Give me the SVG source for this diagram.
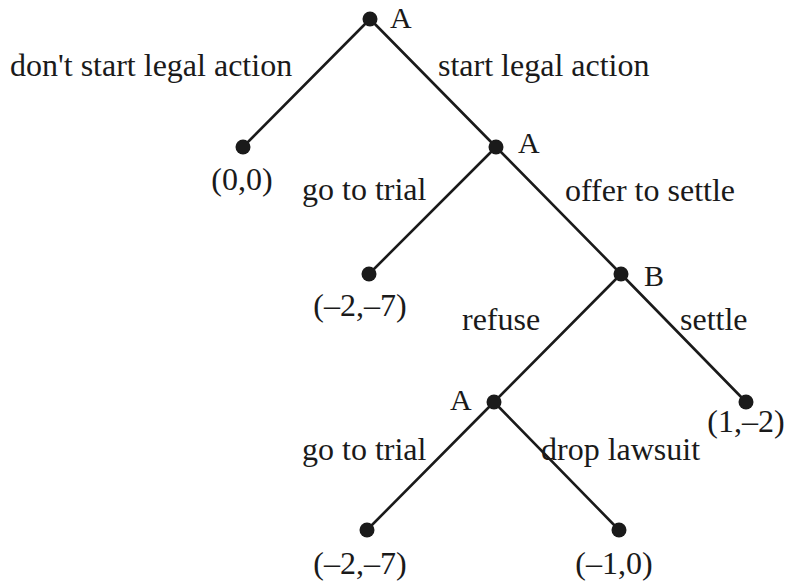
<svg xmlns="http://www.w3.org/2000/svg" width="786" height="581" viewBox="0 0 786 581">
<style>
.e{stroke:#1a1a1a;stroke-width:2.6;fill:none;stroke-linecap:round}
.n{fill:#1a1a1a}
text{font-family:"Liberation Serif","Times New Roman",serif;fill:#1a1a1a}
.t{font-size:32px}
.p{font-size:32px}
.l{font-size:30px}
</style>
<rect width="786" height="581" fill="#fff"/>
<g id="connectors">
<line class="e" x1="370" y1="19" x2="243" y2="147"/>
<line class="e" x1="370" y1="19" x2="496" y2="147"/>
<line class="e" x1="496" y1="147" x2="369" y2="274"/>
<line class="e" x1="496" y1="147" x2="621" y2="274"/>
<line class="e" x1="621" y1="274" x2="494" y2="402"/>
<line class="e" x1="621" y1="274" x2="746" y2="402"/>
<line class="e" x1="494" y1="402" x2="367" y2="530"/>
<line class="e" x1="494" y1="402" x2="619" y2="530"/>
</g>
<g id="edge-labels">
<text class="t" x="10" y="76">don't start legal action</text>
<text class="t" x="438" y="76">start legal action</text>
<text class="t" x="302" y="200">go to trial</text>
<text class="t" x="565" y="201">offer to settle</text>
<text class="t" x="462" y="330">refuse</text>
<text class="t" x="680" y="330">settle</text>
<text class="t" x="302" y="460">go to trial</text>
<text class="t" x="541" y="460">drop lawsuit</text>
</g>
<g id="n-root"><circle class="n" cx="370" cy="19" r="7.5"/><text class="l" x="390" y="28">A</text></g>
<g id="n-noaction"><circle class="n" cx="243" cy="147" r="7.5"/><text class="p" x="242" y="190" text-anchor="middle">(0,0)</text></g>
<g id="n-a2"><circle class="n" cx="496" cy="147" r="7.5"/><text class="l" x="518" y="153">A</text></g>
<g id="n-trial1"><circle class="n" cx="369" cy="274" r="7.5"/><text class="p" x="360" y="316" text-anchor="middle">(–2,–7)</text></g>
<g id="n-b"><circle class="n" cx="621" cy="274" r="7.5"/><text class="l" x="644" y="286">B</text></g>
<g id="n-a3"><circle class="n" cx="494" cy="402" r="7.5"/><text class="l" x="450" y="410">A</text></g>
<g id="n-settle"><circle class="n" cx="746" cy="402" r="7.5"/><text class="p" x="746" y="432" text-anchor="middle">(1,–2)</text></g>
<g id="n-trial2"><circle class="n" cx="367" cy="530" r="7.5"/><text class="p" x="360" y="574" text-anchor="middle">(–2,–7)</text></g>
<g id="n-drop"><circle class="n" cx="619" cy="530" r="7.5"/><text class="p" x="614" y="574" text-anchor="middle">(–1,0)</text></g>
</svg>
